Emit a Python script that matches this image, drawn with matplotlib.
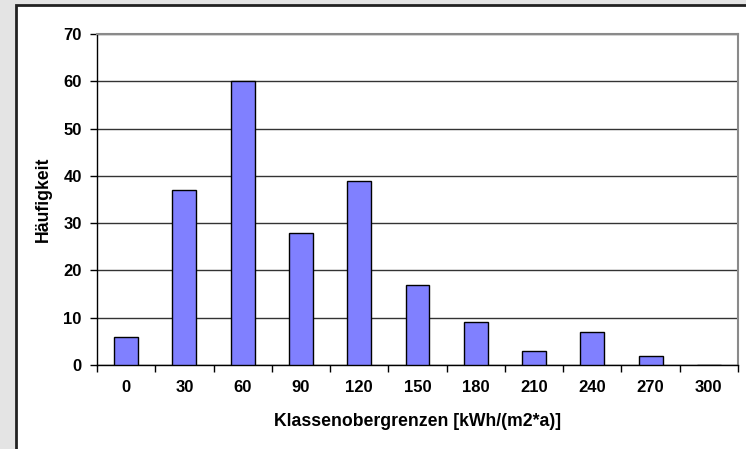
#!/usr/bin/env python3
"""Histogram of heating energy classes (Excel-style bar chart)."""
import matplotlib

matplotlib.use("Agg")

import matplotlib.pyplot as plt
from matplotlib.patches import Rectangle
import numpy as np

CLASSES = ["0", "30", "60", "90", "120", "150", "180", "210", "240", "270", "300"]
COUNTS = [6, 37, 60, 28, 39, 17, 9, 3, 7, 2, 0]
Y_TICKS = [0, 10, 20, 30, 40, 50, 60, 70]

plt.rcParams["font.family"] = ["Liberation Sans", "DejaVu Sans"]
plt.rcParams["font.weight"] = "bold"

W, H = 746, 449
FS = 12
fig = plt.figure(figsize=(W / 100, H / 100), dpi=100)
fig.patch.set_facecolor("#e4e4e4")

# white chart area with dark frame
fig.patches.append(Rectangle((16 / W, -0.05), 1.1, (H - 5) / H + 0.05,
                             transform=fig.transFigure, facecolor="white",
                             edgecolor="#222222", lw=2.0, zorder=-5))

ax = fig.add_axes([97 / W, 1 - 365 / H, (738 - 97) / W, (365 - 34) / H])
ax.set_zorder(2)
ax.set_facecolor("white")

x = np.arange(len(CLASSES))
ax.bar(x, COUNTS, width=0.41, color="#8080ff", edgecolor="black", lw=1.0, zorder=3)

ax.set_xlim(-0.5, len(CLASSES) - 0.5)
ax.set_ylim(0, 70)
ax.set_yticks(Y_TICKS)
ax.yaxis.grid(True, color="#333333", lw=1.0, zorder=0)
ax.set_axisbelow(True)

ax.set_xticks(x)
ax.set_xticklabels(CLASSES)
ax.set_xticks(np.arange(len(CLASSES) + 1) - 0.5, minor=True)
ax.tick_params(axis="x", which="major", length=0, pad=11, labelsize=FS)
ax.tick_params(axis="x", which="minor", length=5, width=1.0, direction="out")
ax.tick_params(axis="y", length=5, width=1.0, pad=6, labelsize=FS)

for side in ("left", "bottom"):
    ax.spines[side].set_color("black")
    ax.spines[side].set_linewidth(1.0)
for side in ("top", "right"):
    ax.spines[side].set_color("#8a8a8a")
    ax.spines[side].set_linewidth(1.5)

ax.set_xlabel("Klassenobergrenzen [kWh/(m2*a)]", fontsize=12.7,
              fontweight="bold", labelpad=13)
ax.set_ylabel("Häufigkeit", fontsize=12.7, fontweight="bold", labelpad=8)

fig.savefig("out.png", dpi=100, facecolor=fig.get_facecolor())
